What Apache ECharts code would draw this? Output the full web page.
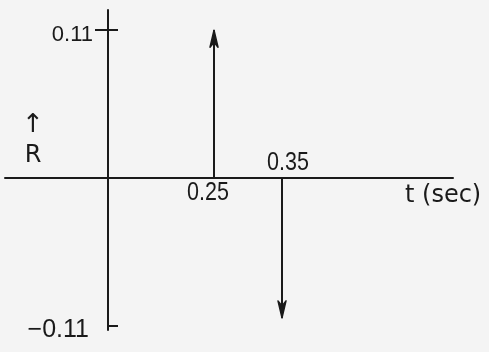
<!DOCTYPE html>
<html>
<head>
<meta charset="utf-8">
<script src="https://cdn.jsdelivr.net/npm/echarts@6/dist/echarts.min.js"></script>
<style>
  html, body { margin: 0; padding: 0; background: #f4f4f4; }
  #chart { width: 489px; height: 352px; }
</style>
</head>
<body>
<div id="chart"></div>
<script>
// Impulse response R(t): two impulses, one positive and one negative
const times = [0.25, 0.35];
const responses = [0.11, -0.104];
const yTickValues = [0.11, -0.11];
const tRange = [-0.0574, 0.6015];
const rRange = [-0.113, 0.125];
const xName = 't (sec)';
const yName = 'R';

const ink = '#1a1a1a';
const handFont = "'Liberation Sans', Arial, sans-serif";
const plainFont = "'DejaVu Sans', sans-serif";

const impulses = times.map((t, i) => [t, responses[i]]);

// Each impulse: a shaft from the t axis, a slim notched arrowhead at the tip,
// and its time written on the side opposite the arrow.
function renderImpulse(params, api) {
  const t = api.value(0);
  const r = api.value(1);
  const base = api.coord([t, 0]);
  const tip = api.coord([t, r]);
  const dir = r >= 0 ? 1 : -1;
  const headLen = 17;
  const headHalf = 4;
  const backY = tip[1] + dir * headLen;
  const notchY = tip[1] + dir * (headLen - 5);
  return {
    type: 'group',
    children: [
      {
        type: 'line',
        shape: { x1: base[0], y1: base[1], x2: tip[0], y2: tip[1] },
        style: { stroke: ink, lineWidth: 2 }
      },
      {
        type: 'polygon',
        shape: {
          points: [
            [tip[0], tip[1]],
            [tip[0] - headHalf, backY],
            [tip[0], notchY],
            [tip[0] + headHalf, backY]
          ]
        },
        style: { stroke: ink, lineWidth: 1.5, fill: ink, lineJoin: 'round' }
      },
      {
        type: 'text',
        x: base[0] - dir * 6,
        y: base[1] + dir * 15,
        scaleX: 0.86,
        style: {
          text: t.toFixed(2),
          x: 0,
          y: 0,
          fontFamily: handFont,
          fontSize: 25,
          fill: ink,
          align: 'center',
          verticalAlign: 'middle'
        }
      }
    ]
  };
}

const chart = echarts.init(document.getElementById('chart'), null, { renderer: 'canvas' });

const yAxisBase = {
  type: 'value',
  min: rRange[0],
  max: rRange[1],
  position: 'left',
  offset: -103,
  splitLine: { show: false }
};

chart.setOption({
  backgroundColor: '#f4f4f4',
  animation: false,
  grid: { left: 5, right: 36, top: 10, height: 320, containLabel: false, outerBoundsMode: 'none' },
  xAxis: {
    type: 'value',
    min: tRange[0],
    max: tRange[1],
    splitLine: { show: false },
    axisTick: { show: false },
    axisLabel: { show: false },
    axisLine: { show: true, onZero: true, lineStyle: { color: ink, width: 2 } },
    name: xName,
    nameLocation: 'end',
    nameGap: -48,
    nameMoveOverlap: false,
    nameTextStyle: {
      fontFamily: plainFont,
      fontSize: 24,
      color: ink,
      align: 'left',
      verticalAlign: 'top',
      padding: [6, 0, 0, 0]
    }
  },
  yAxis: [
    Object.assign({}, yAxisBase, {
      axisLine: { show: true, onZero: false, lineStyle: { color: ink, width: 2 } },
      axisTick: { show: true, customValues: [yTickValues[0]], length: 13, lineStyle: { color: ink, width: 2 } },
      axisLabel: {
        show: true,
        customValues: yTickValues,
        margin: 15,
        padding: [9, 0, 0, 0],
        color: ink,
        fontFamily: handFont,
        formatter: v => v < 0 ? '{n|\u2212' + Math.abs(v).toFixed(2) + '}' : '{p|' + v.toFixed(2) + '}',
        rich: {
          p: { fontFamily: handFont, fontSize: 22, color: ink },
          n: { fontFamily: handFont, fontSize: 25, color: ink, padding: [0, 4, 0, 0] }
        }
      },
      name: '{a|\u2191}\n{b|' + yName + '}',
      nameLocation: 'middle',
      nameRotate: 0,
      nameGap: 75,
      nameMoveOverlap: false,
      nameTextStyle: {
        color: ink,
        align: 'center',
        padding: [0, 0, 60, 0],
        rich: {
          a: { fontFamily: plainFont, fontSize: 26, color: ink, lineHeight: 32 },
          b: { fontFamily: plainFont, fontSize: 24, color: ink, lineHeight: 30 }
        }
      }
    }),
    Object.assign({}, yAxisBase, {
      axisLine: { show: false, onZero: false },
      axisLabel: { show: false },
      axisTick: { show: true, inside: true, customValues: yTickValues, length: 10, lineStyle: { color: ink, width: 2 } }
    })
  ],
  series: [
    {
      type: 'custom',
      renderItem: renderImpulse,
      data: impulses,
      encode: { x: 0, y: 1 },
      clip: false
    }
  ]
});
</script>
</body>
</html>
